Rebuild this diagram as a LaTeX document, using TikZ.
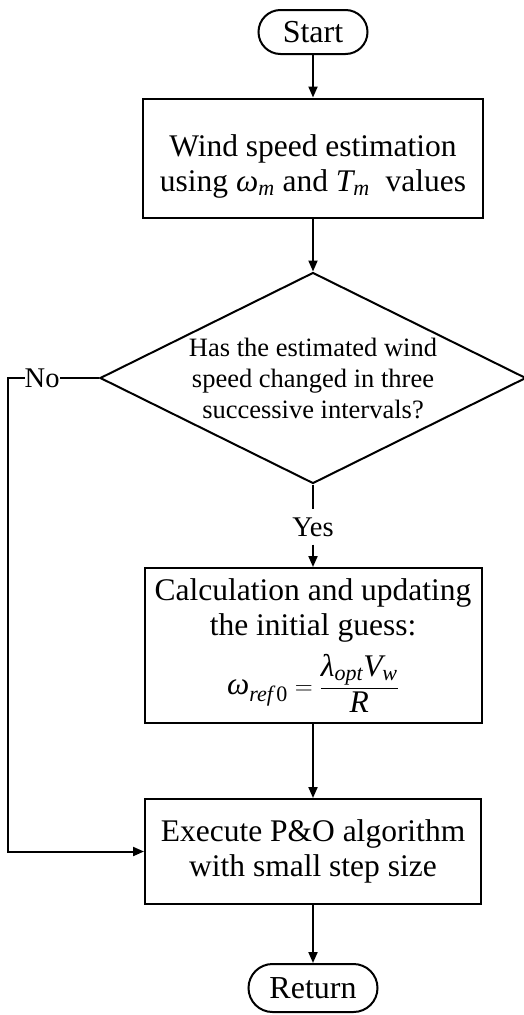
\documentclass[tikz,border=0pt]{standalone}
\usepackage{fontspec}
\setmainfont{Liberation Serif}
\usepackage{amsmath}
\usetikzlibrary{arrows.meta,shapes.geometric}
\newcommand\im[1]{\text{\itshape #1}}
\begin{document}
\begin{tikzpicture}[x=1pt,y=-1pt,
 every node/.style={font=\fontsize{31.5}{35.5}\selectfont},
 line/.style={line width=2pt},
 arr/.style={line width=2pt,-{Triangle[length=11pt,width=9pt]}},
 term/.style={draw,line width=2pt,rounded corners=22pt,minimum width=109pt,minimum height=44pt,inner sep=0,font=\fontsize{32}{38}\selectfont},
 proc/.style={draw,line width=2pt,align=center,inner sep=0},
 decision/.style={draw,diamond,line width=2pt,minimum width=426pt,minimum height=211pt,inner sep=0},
 small/.style={font=\fontsize{28.5}{32}\selectfont}]
\useasboundingbox (0,0) rectangle (523,1015);
\node[term] (start) at (313,32) {Start};
\node[proc,minimum width=340pt,minimum height=119pt] (est) at (313,158) {\rule{0pt}{39pt}Wind speed estimation\\using $\im{ω}_{\im{m}}$ and $\im{T}_{\im{m}}$\enspace values};
\node[decision] (dec) at (313,378) {};
\node[align=center,font=\fontsize{26.5}{31}\selectfont] (dectext) at (dec.center) {Has the estimated wind\\speed changed in three\\successive intervals?};
\node[small,inner xsep=2pt,inner ysep=8pt] (yes) at (313,527) {Yes};
\node[proc,minimum width=337pt,minimum height=155pt] (calc) at (313,645.5) {Calculation and updating\\the initial guess:\\[11pt]$\im{ω}_{\im{ref}\,\text{0}} = \dfrac{\im{λ}_{\im{opt}}\im{V}_{\im{w}}}{\im{R}}$};
\node[proc,minimum width=336pt,minimum height=105pt] (exec) at (313,851.5) {Execute P\&O algorithm\\with small step size};
\node[term,minimum width=129pt,minimum height=48pt,rounded corners=24pt] (ret) at (313,988) {Return};
\coordinate (nocorner) at (8,378);
\draw[arr] (start) -- (est);
\draw[arr] (est) -- (dec);
\draw[line] (dec.south) -- (yes.north);
\draw[arr] (yes) -- (calc);
\draw[arr] (calc) -- (exec);
\draw[arr] (exec) -- (ret);
\draw[arr] (dec.west) -- node[pos=0.625,fill=white,inner xsep=0pt,inner ysep=1pt,small] (no) {No} (nocorner) |- (exec.west);
\end{tikzpicture}
\end{document}
